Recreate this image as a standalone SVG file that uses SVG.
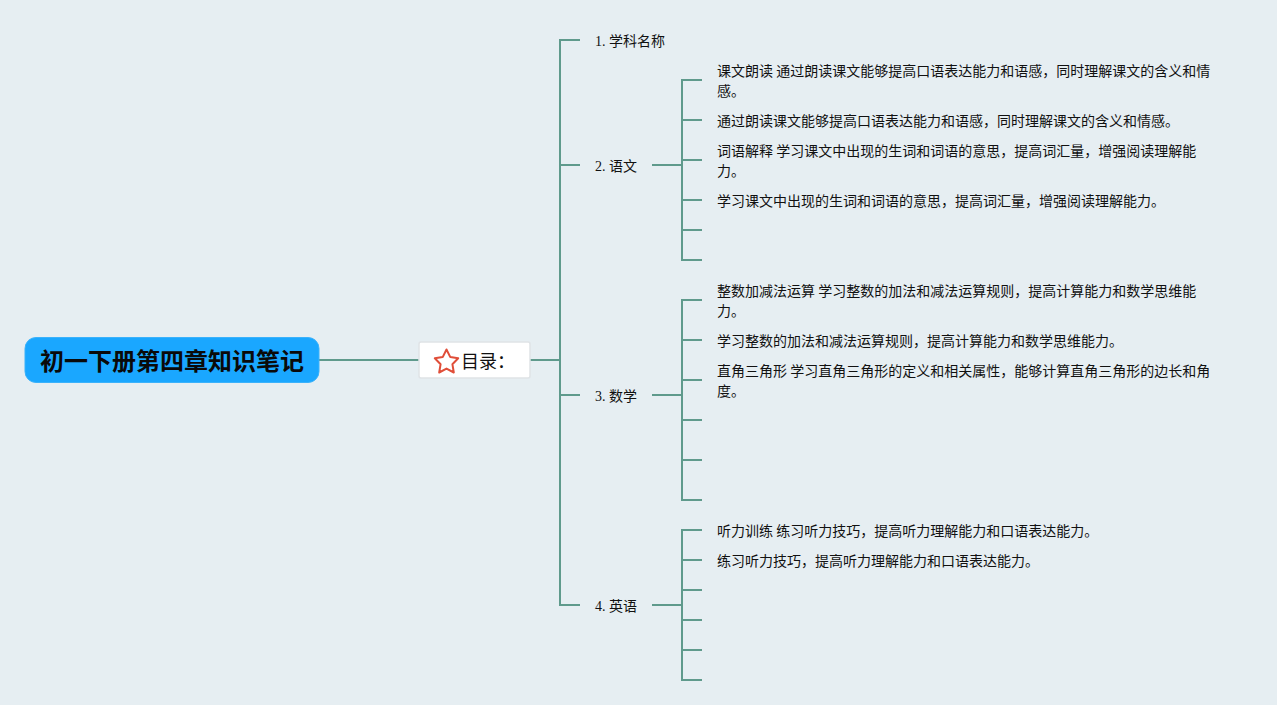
<svg xmlns="http://www.w3.org/2000/svg" width="1277" height="705" viewBox="0 0 1277 705">
<style>
.l{fill:none;stroke:#5f9a8c;stroke-width:2}
.t{font-family:"Liberation Serif","Noto Sans CJK SC",serif;font-size:14px;fill:#111}
.c{font-family:"Noto Sans CJK SC","Liberation Sans",sans-serif;font-size:14px;fill:#111}
</style>
<rect width="1277" height="705" fill="#e6eef2"/>
<g id="connectors" class="l">
<path d="M319 360H419M530 360H560"/>
<path d="M580 40H560V605H580M560 165H580M560 395H580"/>
<path d="M652 165H682M702 80H682V260H702M682 120H702M682 160H702M682 200H702M682 230H702"/>
<path d="M652 395H682M702 300H682V500H702M682 340H702M682 380H702M682 420H702M682 460H702"/>
<path d="M652 605H682M702 530H682V680H702M682 560H702M682 590H702M682 620H702M682 650H702"/>
</g>
<g id="root">
<rect x="25" y="337.500" width="294" height="45" rx="11" fill="#1aa7ff" stroke="#3bb2fb"/>
<text x="172" y="370" text-anchor="middle" font-family="'Noto Sans CJK SC',sans-serif" font-size="24" font-weight="700" fill="#0a0a0a">初一下册第四章知识笔记</text>
</g>
<g id="toc">
<rect x="419" y="342" width="111" height="36" rx="2" fill="#fff" stroke="#dfe3e6" stroke-width="1.5"/>
<path d="M446.500 349.500L450.300 357.100L458.200 358.300L452.400 364.200L453.800 372.500L446.500 368.600L439.200 372.500L440.600 364.200L434.800 358.300L442.700 357.100Z" fill="#fff" stroke="#e04e39" stroke-width="2" stroke-linejoin="round"/>
<text x="461" y="368" font-family="'Noto Sans CJK SC',sans-serif" font-size="18" fill="#111">目录：</text>
</g>
<g id="n1"><text class="t" x="595" y="46">1. 学科名称</text></g>
<g id="n2"><text class="t" x="595" y="171">2. 语文</text></g>
<g id="n3"><text class="t" x="595" y="401">3. 数学</text></g>
<g id="n4"><text class="t" x="595" y="611">4. 英语</text></g>
<g id="n21"><text class="c" x="717" y="76">课文朗读 通过朗读课文能够提高口语表达能力和语感，同时理解课文的含义和情</text><text class="c" x="717" y="96">感。</text></g>
<g id="n22"><text class="c" x="717" y="126">通过朗读课文能够提高口语表达能力和语感，同时理解课文的含义和情感。</text></g>
<g id="n23"><text class="c" x="717" y="156">词语解释 学习课文中出现的生词和词语的意思，提高词汇量，增强阅读理解能</text><text class="c" x="717" y="176">力。</text></g>
<g id="n24"><text class="c" x="717" y="206">学习课文中出现的生词和词语的意思，提高词汇量，增强阅读理解能力。</text></g>
<g id="n31"><text class="c" x="717" y="296">整数加减法运算 学习整数的加法和减法运算规则，提高计算能力和数学思维能</text><text class="c" x="717" y="316">力。</text></g>
<g id="n32"><text class="c" x="717" y="346">学习整数的加法和减法运算规则，提高计算能力和数学思维能力。</text></g>
<g id="n33"><text class="c" x="717" y="376">直角三角形 学习直角三角形的定义和相关属性，能够计算直角三角形的边长和角</text><text class="c" x="717" y="396">度。</text></g>
<g id="n41"><text class="c" x="717" y="536">听力训练 练习听力技巧，提高听力理解能力和口语表达能力。</text></g>
<g id="n42"><text class="c" x="717" y="566">练习听力技巧，提高听力理解能力和口语表达能力。</text></g>
</svg>
